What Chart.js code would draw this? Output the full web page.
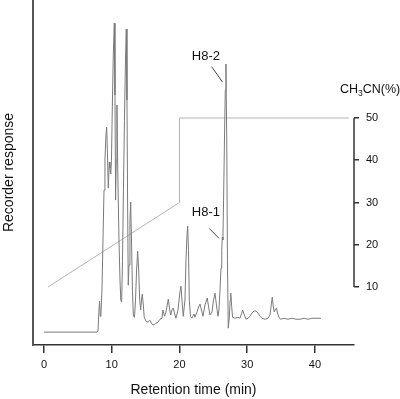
<!DOCTYPE html>
<html>
<head>
<meta charset="utf-8">
<script src="https://cdn.jsdelivr.net/npm/chart.js@4.4.1/dist/chart.umd.min.js"></script>
<style>
  html, body { margin: 0; padding: 0; background: #fff; }
  canvas { display: block; }
</style>
</head>
<body>
<canvas id="chrom" width="400" height="399"></canvas>
<script>
// detector trace (response in arbitrary units)
const retentionTime = [
  0, 7.82, 7.97, 8.12, 8.21, 8.31, 8.41, 8.56, 8.71, 8.86, 9.00, 9.15, 9.25, 9.36, 9.49,
  9.64, 9.74, 9.86, 9.96, 10.08, 10.23, 10.38, 10.48, 10.57, 10.67, 10.77, 10.89, 11.07,
  11.22, 11.34, 11.47, 11.59, 11.73, 11.88, 12.03, 12.15, 12.25, 12.34, 12.44, 12.55,
  12.69, 12.80, 12.92, 13.06, 13.20, 13.36, 13.51, 13.67, 13.83, 13.98, 14.13, 14.27,
  14.39, 14.51, 14.66, 14.80, 15.06, 15.35, 15.65, 15.94, 16.24, 16.53, 16.83, 17.12,
  17.42, 17.56, 17.79, 18.01, 18.35, 18.52, 18.70, 18.89, 19.08, 19.26, 19.48, 19.78,
  20.07, 20.22, 20.37, 20.56, 20.81, 20.96, 21.11, 21.21, 21.33, 21.45, 21.62, 21.84,
  22.14, 22.29, 22.58, 22.88, 23.03, 23.25, 23.47, 23.76, 24.10, 24.28, 24.50, 24.80,
  25.02, 25.24, 25.46, 25.68, 25.83, 25.98, 26.13, 26.24, 26.32, 26.41, 26.51, 26.64,
  26.76, 26.86, 26.98, 27.08, 27.20, 27.35, 27.48, 27.57, 27.69, 27.84, 28.19, 28.63,
  28.93, 29.15, 29.33, 29.52, 29.82, 30.11, 30.41, 30.70, 31.00, 31.29, 31.59, 31.88,
  32.18, 32.62, 33.06, 33.36, 33.58, 33.70, 33.84, 33.99, 34.17, 34.32, 34.46, 34.69,
  34.91, 35.42, 36.01, 36.60, 37.20, 37.79, 38.38, 38.97, 39.56, 40.15, 40.89
];
const response = [
  0, 0, 0.3, 6.7, 9.4, 4.8, 5.5, 12.7, 27.9, 43.0, 52.1, 59.7, 62.1, 55.2, 43.6,
  51.5, 49.7, 47.9, 52.1, 67.3, 83.9, 93.6, 71.8, 40.0, 52.1, 68.8, 49.1, 27.9,
  15.8, 9.7, 9.1, 21.8, 43.0, 64.2, 82.4, 91.8, 70.3, 40.0, 14.2, 20.3,
  33.9, 39.4, 27.9, 12.7, 4.8, 4.5, 9.7, 18.8, 24.5, 18.8, 9.7, 6.7,
  9.7, 11.5, 8.2, 4.5, 3.3, 3.0, 3.6, 2.4, 2.1, 2.7, 3.0, 3.9,
  4.2, 6.7, 4.8, 6.1, 10.0, 7.3, 5.2, 6.7, 7.3, 5.8, 4.2, 6.7,
  12.1, 13.9, 9.7, 4.8, 9.7, 21.8, 29.4, 32.1, 24.8, 9.7, 4.8, 4.2,
  5.5, 4.5, 6.1, 7.9, 8.5, 6.7, 4.8, 8.2, 10.3, 7.9, 5.2, 6.1,
  9.7, 11.8, 8.2, 4.8, 6.7, 12.7, 19.4, 24.8, 28.8, 27.9, 40.0, 58.2,
  73.3, 81.2, 58.2, 21.8, 1.2, 4.2, 9.7, 11.8, 8.2, 4.5, 4.2, 4.5,
  4.2, 5.5, 6.7, 5.5, 3.9, 4.2, 4.8, 5.8, 6.4, 6.4, 5.8, 4.8,
  4.2, 3.9, 4.2, 5.2, 8.8, 10.6, 7.9, 6.1, 7.0, 7.3, 5.8, 4.5,
  3.9, 4.2, 3.9, 4.2, 3.9, 3.9, 4.2, 3.9, 4.2, 4.2, 4.2
];

// CH3CN gradient programme
const gradientTime = [0.6, 20, 20, 45];
const gradientPct = [10, 30, 50, 50];

const timeTicks = [0, 10, 20, 30, 40];
const pctTicks = [10, 20, 30, 40, 50];

// peak labels with their leader lines (time, response)
const peakNotes = [
  { text: 'H8-2', at: [23.9, 83.6], from: [24.75, 80.4], to: [26.32, 75.8] },
  { text: 'H8-1', at: [23.9, 36.4], from: [24.4, 31.4], to: [25.83, 28.4] }
];

const FONT = '"Liberation Sans", Arial, Helvetica, sans-serif';
Chart.defaults.font.family = FONT;
Chart.defaults.color = '#111';

// chart.js pads vertical axes by half a label height; the plot here runs to the edge
const noPad = s => { s.paddingTop = 0; s.paddingBottom = 0; };

const extras = {
  id: 'extras',
  afterDraw(chart) {
    const { ctx } = chart;
    const { x, y, y2 } = chart.scales;
    ctx.save();

    // right axis line, only across the gradient range
    ctx.strokeStyle = '#333';
    ctx.lineWidth = 1.5;
    ctx.beginPath();
    ctx.moveTo(y2.left, y2.getPixelForValue(pctTicks[0]));
    ctx.lineTo(y2.left, y2.getPixelForValue(pctTicks[pctTicks.length - 1]));
    ctx.stroke();

    // CH3CN(%) heading
    ctx.fillStyle = '#111';
    ctx.textBaseline = 'middle';
    ctx.textAlign = 'left';
    let hx = y2.left - 14;
    const hy = y2.getPixelForValue(pctTicks[pctTicks.length - 1]) - 28;
    ctx.font = '12.5px ' + FONT;
    ctx.fillText('CH', hx, hy);
    hx += ctx.measureText('CH').width;
    ctx.font = '8.5px ' + FONT;
    ctx.fillText('3', hx, hy + 4);
    hx += ctx.measureText('3').width;
    ctx.font = '12.5px ' + FONT;
    ctx.fillText('CN(%)', hx, hy);

    // peak labels
    ctx.font = '13px ' + FONT;
    ctx.textAlign = 'center';
    ctx.strokeStyle = '#444';
    ctx.lineWidth = 1;
    peakNotes.forEach(n => {
      ctx.fillText(n.text, x.getPixelForValue(n.at[0]), y.getPixelForValue(n.at[1]));
      ctx.beginPath();
      ctx.moveTo(x.getPixelForValue(n.from[0]), y.getPixelForValue(n.from[1]));
      ctx.lineTo(x.getPixelForValue(n.to[0]), y.getPixelForValue(n.to[1]));
      ctx.stroke();
    });
    ctx.restore();
  }
};

new Chart(document.getElementById('chrom'), {
  type: 'line',
  data: {
    datasets: [
      {
        data: retentionTime.map((t, i) => ({ x: t, y: response[i] })),
        borderColor: '#7a7a7a',
        borderWidth: 1,
        pointRadius: 0,
        tension: 0,
        yAxisID: 'y'
      },
      {
        data: gradientTime.map((t, i) => ({ x: t, y: gradientPct[i] })),
        borderColor: '#b4b4b4',
        borderWidth: 1,
        pointRadius: 0,
        tension: 0,
        yAxisID: 'y2'
      }
    ]
  },
  options: {
    responsive: false,
    animation: false,
    devicePixelRatio: 1,
    layout: { padding: 0 },
    plugins: { legend: { display: false }, tooltip: { enabled: false } },
    scales: {
      x: {
        type: 'linear',
        min: -1.62,
        max: 45.76,
        afterBuildTicks: s => { s.ticks = timeTicks.map(v => ({ value: v })); },
        afterFit: s => { s.height = 54; s.paddingLeft = 0; s.paddingRight = 0; },
        grid: { drawOnChartArea: false, drawTicks: true, tickLength: 8, color: '#333', lineWidth: 1.5 },
        border: { display: true, color: '#333', width: 1.5 },
        ticks: { font: { size: 11 }, padding: 5, color: '#111' },
        title: { display: true, text: 'Retention time (min)', font: { size: 14 }, padding: 0, color: '#111' }
      },
      y: {
        position: 'left',
        min: -3.9,
        max: 100.6,
        afterFit: s => { s.width = 33; noPad(s); },
        grid: { display: false },
        border: { display: true, color: '#555', width: 2 },
        ticks: { display: false },
        title: { display: true, text: 'Recorder response', font: { size: 14 }, padding: { top: 1, bottom: 0 }, color: '#111' }
      },
      y2: {
        position: 'right',
        min: -3.73,
        max: 77.93,
        afterBuildTicks: s => { s.ticks = pctTicks.map(v => ({ value: v })); },
        afterFit: s => { s.width = 46; noPad(s); },
        grid: { drawOnChartArea: false, drawTicks: true, tickLength: 5, color: '#333', lineWidth: 1.5 },
        border: { display: false },
        ticks: { font: { size: 11 }, padding: 7, color: '#111' }
      }
    }
  },
  plugins: [extras]
});
</script>
</body>
</html>
